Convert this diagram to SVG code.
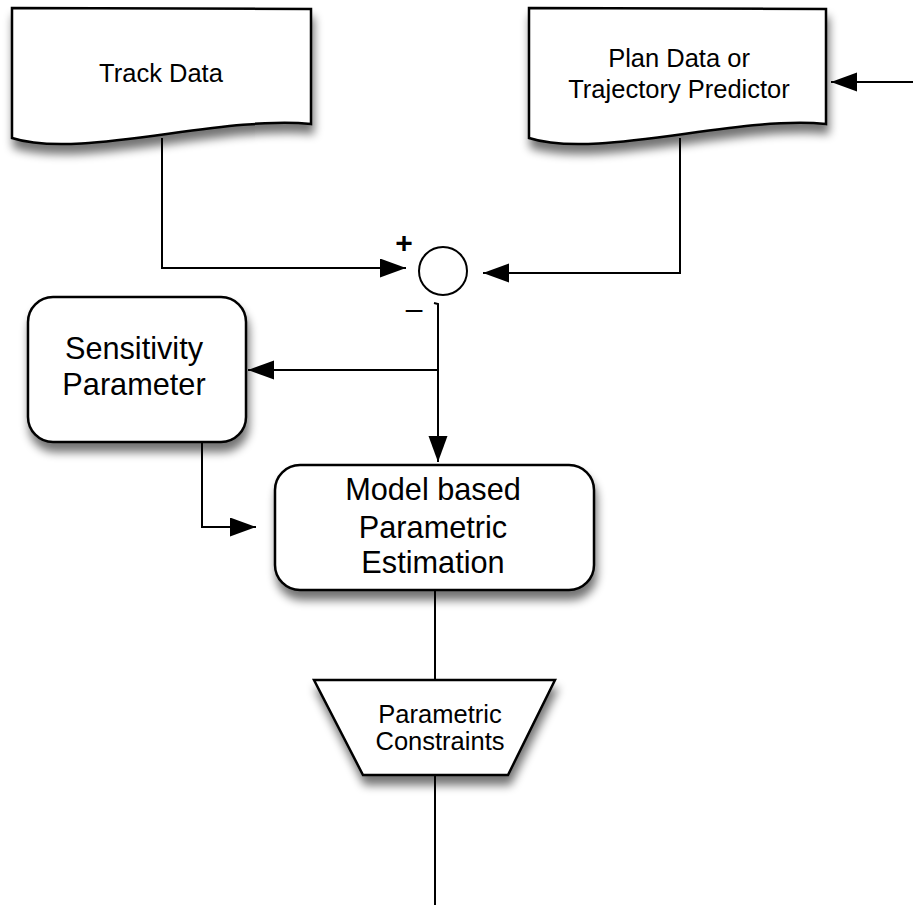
<svg xmlns="http://www.w3.org/2000/svg" width="913" height="907" viewBox="0 0 913 907">
<defs>
<filter id="sh" x="-20%" y="-20%" width="140%" height="150%">
<feGaussianBlur in="SourceAlpha" stdDeviation="5"/>
<feOffset dx="2" dy="9" result="b"/>
<feComponentTransfer><feFuncA type="linear" slope="0.55"/></feComponentTransfer>
<feMerge><feMergeNode/><feMergeNode in="SourceGraphic"/></feMerge>
</filter>
<marker id="ah" markerUnits="userSpaceOnUse" markerWidth="27" markerHeight="20" refX="26" refY="9.5" orient="auto">
<path d="M0,0 L26,9.5 L0,19 z" fill="#000"/>
</marker>
</defs>
<style>
.shape{fill:#fff;stroke:#000;stroke-width:2.5;filter:url(#sh)}
.line{fill:none;stroke:#000;stroke-width:2}
.t{font-family:"Liberation Sans",Arial,sans-serif;fill:#000;text-anchor:middle}
.s25{font-size:25.5px}
.s31{font-size:30.7px}
.sign{font-size:30px;font-weight:bold}
</style>
<rect width="913" height="907" fill="#fff"/>
<g id="connectors">
<path class="line" d="M162,138 L162,268 L406,268" marker-end="url(#ah)"/>
<path class="line" d="M680,138 L680,273 L483,273" marker-end="url(#ah)"/>
<path class="line" d="M913,82 L831,82" marker-end="url(#ah)"/>
<path class="line" d="M434,303 L438,304 L438,462" marker-end="url(#ah)"/>
<path class="line" d="M438,370 L248,370" marker-end="url(#ah)"/>
<path class="line" d="M202,442 L202,527 L256,527" marker-end="url(#ah)"/>
<path class="line" d="M435,590 L435,680"/>
<path class="line" d="M435,775 L435,905"/>
</g>
<g id="track-data">
<path class="shape" d="M12,8 L311,9 L311,124 C220,115 80,160 12,138 Z"/>
<text class="t s25" x="161" y="82">Track Data</text>
</g>
<g id="plan-data">
<path class="shape" d="M529,8 L826,9 L826,124 C737,115 597,160 529,138 Z"/>
<text class="t s25" x="679" y="67">Plan Data or</text>
<text class="t s25" x="679" y="98">Trajectory Predictor</text>
</g>
<g id="sum">
<circle cx="443" cy="271" r="24" fill="#fff" stroke="#000" stroke-width="2"/>
<text class="t sign" x="404" y="253">+</text>
<text class="t" style="font-size:30px" x="414" y="319">–</text>
</g>
<g id="sensitivity">
<rect class="shape" x="28" y="297" width="218" height="145" rx="25"/>
<text class="t s31" x="134" y="359">Sensitivity</text>
<text class="t s31" x="134" y="395">Parameter</text>
</g>
<g id="model">
<rect class="shape" x="275" y="465" width="319" height="125" rx="25"/>
<text class="t s31" x="433" y="500">Model based</text>
<text class="t s31" x="433" y="538">Parametric</text>
<text class="t s31" x="433" y="573">Estimation</text>
</g>
<g id="constraints">
<path class="shape" d="M314,680 L555,680 L508,775 L363,775 Z"/>
<text class="t s25" x="440" y="723">Parametric</text>
<text class="t s25" x="440" y="750">Constraints</text>
</g>
</svg>
